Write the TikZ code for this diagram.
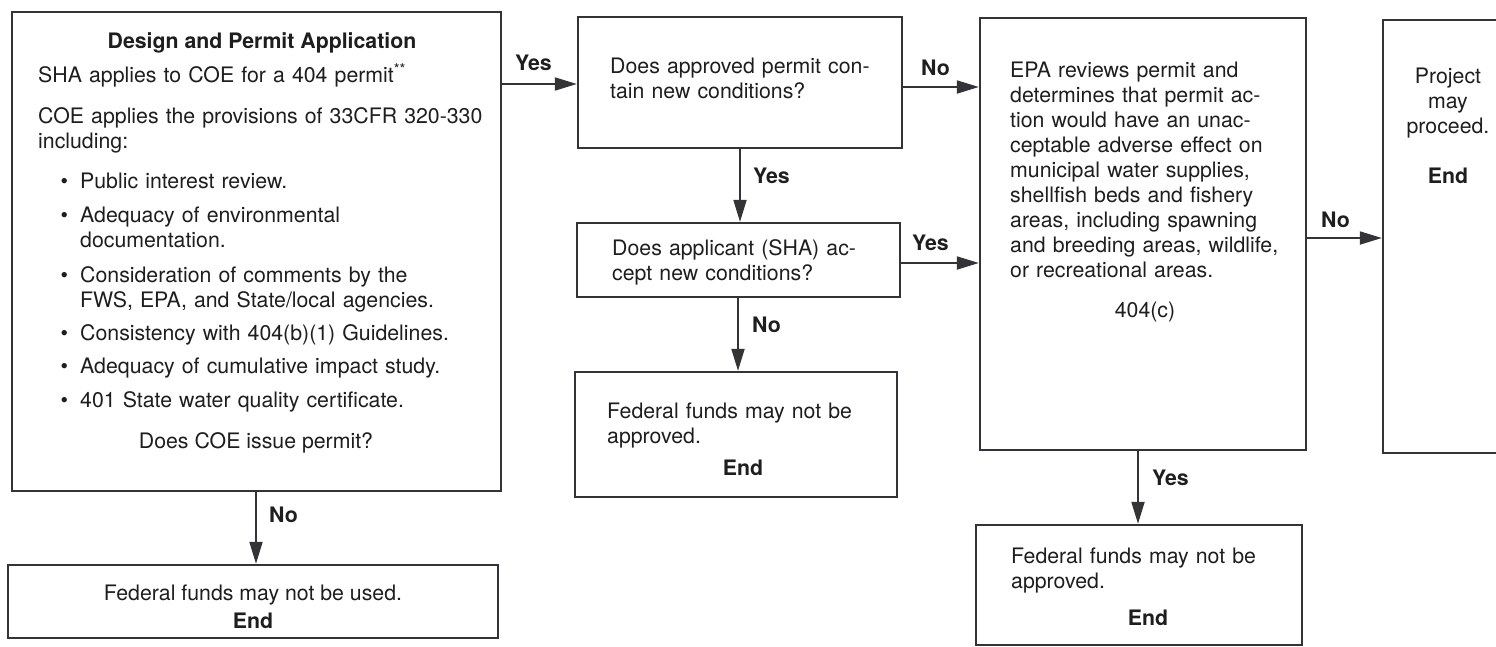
\documentclass[tikz,border=0pt]{standalone}
\usepackage{fontspec}
\setmainfont{TeX Gyre Heros}
\usetikzlibrary{arrows.meta,fit}
\definecolor{ink}{HTML}{333338}
\definecolor{txt}{HTML}{1E1E1E}
\newcommand{\bul}{\makebox[42pt][r]{\textbullet\hspace{12pt}}}
\newcommand{\ind}{\hspace*{42pt}}
\begin{document}
\begin{tikzpicture}[x=1pt,y=-1pt,
  font=\fontsize{21.3}{25}\selectfont, text=txt,
  box/.style={draw=ink, line width=2.4pt, inner sep=0pt, fill=none},
  arr/.style={draw=ink, line width=2pt, -{Triangle[length=22pt,width=13pt]}},
  body/.style={inner sep=0pt, text width=470pt, align=left, anchor=base west},
  lbl/.style={inner sep=0pt, anchor=base west, font=\fontsize{21.3}{25}\selectfont\bfseries},
  ctr/.style={inner sep=0pt, anchor=base}]
\useasboundingbox (0,0) rectangle (1496,646);
\fill[white] (0,0) rectangle (1496,646);

% boxes
\node[box, fit={(12,12) (501,491)}] (A) {};
\node[box, fit={(8,565) (498,638)}] (B) {};
\node[box, fit={(578,17) (902,148)}] (C) {};
\node[box, fit={(577,223) (900,297)}] (D) {};
\node[box, fit={(575,372) (897,497)}] (E) {};
\node[box, fit={(980,18) (1306,450)}] (F) {};
\node[box, fit={(976,525) (1302,645)}] (G) {};
\node[box, fit={(1383,20) (1514,453)}] (H) {};

% texts of A
\node[ctr, font=\fontsize{21.3}{25}\selectfont\bfseries] (Atitle) at (262,48) {Design and Permit Application};
\node[body] (Abody) at (38,82) {SHA applies to COE for a 404 permit\textsuperscript{**}\\[16pt]
\mbox{COE applies the provisions of 33CFR 320-330}\\
including:\\[15pt]
\bul Public interest review.\\[9pt]
\bul Adequacy of environmental\\
\ind documentation.\\[10pt]
\bul Consideration of comments by the\\
\ind FWS, EPA, and State/local agencies.\\[8pt]
\bul Consistency with 404(b)(1) Guidelines.\\[8pt]
\bul Adequacy of cumulative impact study.\\[9pt]
\bul 401 State water quality certificate.};
\node[ctr] (Aq) at (256,448) {Does COE issue permit?};

% B
\node[ctr] (Btext) at (253,600) {Federal funds may not be used.};
\node[ctr, font=\fontsize{21.3}{25}\selectfont\bfseries] (Bend) at (253,628) {End};

% C, D, E
\node[body, text width=300pt] (Ctext) at (610,73) {Does approved permit con-\\tain new conditions?};
\node[body, text width=300pt] (Dtext) at (612,255) {Does applicant (SHA) ac-\\cept new conditions?};
\node[body, text width=300pt] (Etext) at (607,418) {Federal funds may not be\\approved.};
\node[ctr, font=\fontsize{21.3}{25}\selectfont\bfseries] (Eend) at (743,475) {End};

% F
\node[body, text width=300pt] (Ftext) at (1010,77) {EPA reviews permit and\\
determines that permit ac-\\
tion would have an unac-\\
ceptable adverse effect on\\
municipal water supplies,\\
shellfish beds and fishery\\
areas, including spawning\\
and breeding areas, wildlife,\\
or recreational areas.};
\node[ctr] (Fcode) at (1145,317) {404(c)};

% G
\node[body, text width=300pt] (Gtext) at (1011,563) {Federal funds may not be\\approved.};
\node[ctr, font=\fontsize{21.3}{25}\selectfont\bfseries] (Gend) at (1148,625) {End};

% H
\node[ctr, text width=130pt, align=center] (Htext) at (1448,83) {Project\\may\\proceed.\\[25pt]\textbf{End}};

% connectors
\draw[arr] (A.east |- 0,84) -- (C.west |- 0,84);
\draw[arr] (C.east |- 0,87) -- (F.west |- 0,87);
\draw[arr] (C.south -| 740,0) -- (D.north -| 740,0);
\draw[arr] (D.east |- 0,263) -- (F.west |- 0,263);
\draw[arr] (D.south -| 738,0) -- (E.north -| 738,0);
\draw[arr] (A.south -| 256,0) -- (B.north -| 256,0);
\draw[arr] (F.south -| 1138,0) -- (G.north -| 1138,0);
\draw[arr] (F.east |- 0,238) -- (H.west |- 0,238);

% labels
\node[lbl] (l1) at (515,70) {Yes};
\node[lbl] (l2) at (921,75) {No};
\node[lbl] (l3) at (753,183) {Yes};
\node[lbl] (l4) at (912,250) {Yes};
\node[lbl] (l5) at (752,332) {No};
\node[lbl] (l6) at (269,522) {No};
\node[lbl] (l7) at (1152,485) {Yes};
\node[lbl] (l8) at (1321,227) {No};
\end{tikzpicture}
\end{document}
